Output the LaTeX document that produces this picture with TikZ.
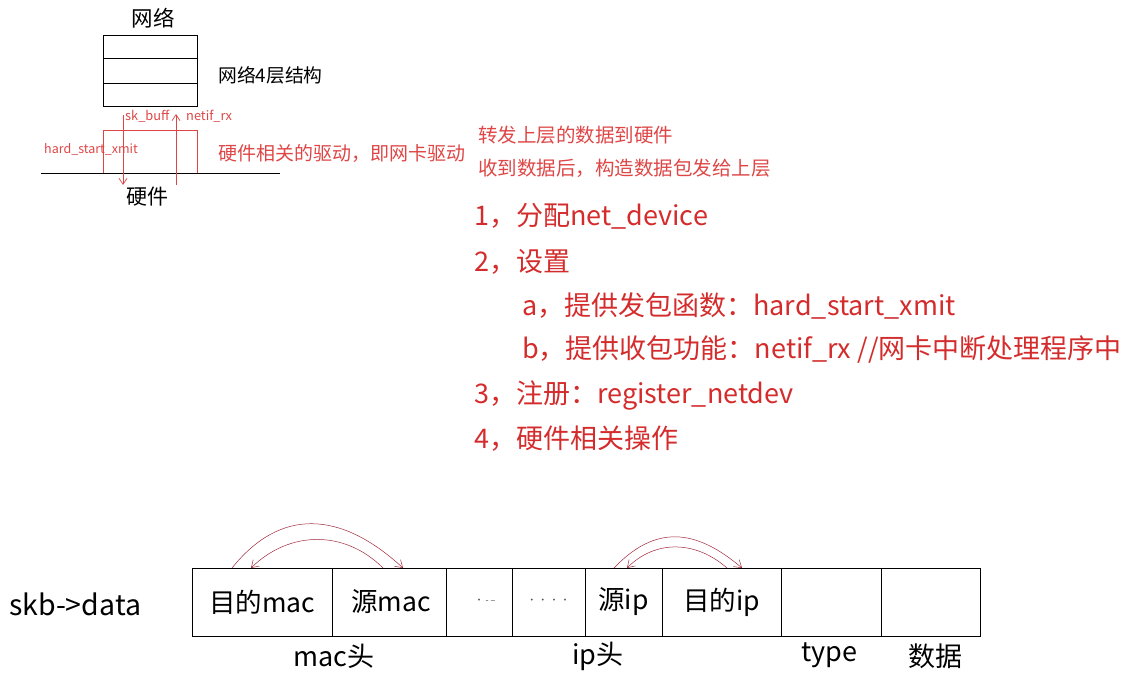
\documentclass[tikz,border=0pt]{standalone}
\usepackage{fontspec}
\setmainfont{Noto Sans CJK SC}
\usetikzlibrary{arrows.meta}
\definecolor{listred}{RGB}{212,44,44}
\definecolor{lightred}{RGB}{222,70,70}
\definecolor{arcred}{RGB}{160,40,60}
\tikzset{
  layer/.style={draw=black, line width=0.8pt, minimum width=94pt, minimum height=24pt, inner sep=0pt},
  cell/.style={draw=black, line width=0.8pt, minimum height=68pt, inner sep=0pt, font=\fontsize{26.5}{30}\selectfont},
  lbl/.style={inner sep=0pt, font=\fontsize{27}{30}\selectfont},
  small/.style={inner sep=0pt, text=lightred, font=\fontsize{12.8}{15}\selectfont},
  mid/.style={inner sep=0pt, text=lightred, font=\fontsize{19.5}{22}\selectfont, anchor=west},
  item/.style={inner sep=0pt, text=listred, font=\fontsize{27}{31}\selectfont, anchor=west},
  arc/.style={draw=arcred, line width=0.5pt, -{Straight Barb[length=7pt,width=9pt]}},
  darrow/.style={draw=lightred, line width=0.7pt, -{Straight Barb[length=6pt,width=8pt]}}
}
\begin{document}
\begin{tikzpicture}[x=1pt,y=-1pt]
\useasboundingbox (0,0) rectangle (1132,685);
% network 4 layers
\node[lbl, font=\fontsize{21.5}{24}\selectfont] (nettitle) at (153,18) {网络};
\node[layer, minimum height=23pt] (l1) at (150,46.5) {};
\node[layer, minimum height=25pt] (l2) at (150,70.5) {};
\node[layer, minimum height=23pt] (l3) at (150,94.5) {};
\node[lbl, font=\fontsize{18.8}{22}\selectfont, anchor=west] (netlabel) at (218,75) {网络4层结构};
% driver
\node[draw=lightred, line width=0.8pt, minimum width=94pt, minimum height=43pt, inner sep=0pt] (drv) at (150,151.5) {};
\coordinate (lineL) at (41,173);
\coordinate (lineR) at (280,173);
\draw[line width=0.8pt] (lineL) -- (lineR);
\coordinate (dTop) at (123,115);
\coordinate (dBot) at (123,185);
\coordinate (uBot) at (176,185);
\coordinate (uTop) at (176,114);
\draw[darrow] (dTop) -- (dBot);
\draw[darrow] (uBot) -- (uTop);
\node[small, anchor=west] (skb) at (125,116) {sk\_buff};
\node[small, anchor=west] (netifrx) at (186,116) {netif\_rx};
\node[small, anchor=west, font=\fontsize{12.5}{15}\selectfont] (hsx) at (44,149) {hard\_start\_xmit};
\node[mid, font=\fontsize{19}{22}\selectfont] (drvlabel) at (218,153) {硬件相关的驱动，即网卡驱动};
\node[lbl, font=\fontsize{21}{24}\selectfont] (hw) at (147,197) {硬件};
% right notes
\node[mid] (n1) at (478,135) {转发上层的数据到硬件};
\node[mid] (n2) at (478,168) {收到数据后，构造数据包发给上层};
% list
\node[item] (i1) at (474,216) {1，分配net\_device};
\node[item] (i2) at (474,262) {2，设置};
\node[item] (i3) at (522,306) {a，提供发包函数：hard\_start\_xmit};
\node[item] (i4) at (522,350) {b，提供收包功能：netif\_rx //网卡中断处理程序中};
\node[item] (i5) at (474,395) {3，注册：register\_netdev};
\node[item] (i6) at (474,439) {4，硬件相关操作};
% skb data
\node[lbl, anchor=west, font=\fontsize{28.5}{32}\selectfont] (skbdata) at (9,604) {skb->data};
\node[cell, minimum width=140pt] (c1) at (262,602) {目的mac};
\node[cell, minimum width=114pt] (c2) at (389,602) {\hspace*{4pt}源mac};
\node[cell, minimum width=66pt, font=\fontsize{9}{10}\selectfont, text=black!70] (c3) at (479,602) {\raisebox{2pt}{\hspace*{12pt}· - –}};
\node[cell, minimum width=73pt, font=\fontsize{9}{10}\selectfont, text=black!70] (c4) at (548.5,602) {\raisebox{2pt}{· · · ·}};
\node[cell, minimum width=77pt] (c5) at (623.5,602) {源ip};
\node[cell, minimum width=119pt] (c6) at (721.5,602) {目的ip};
\node[cell, minimum width=100pt] (c7) at (831,602) {};
\node[cell, minimum width=99pt] (c8) at (930.5,602) {};
\node[lbl] (machead) at (334,656) {mac头};
\node[lbl] (iphead) at (598,656) {ip头};
\node[lbl] (typel) at (829,655) {type};
\node[lbl] (datal) at (935,656) {数据};
% arcs
\coordinate (a1s) at (232,568);
\coordinate (a1e) at (403,568);
\coordinate (a2s) at (383,568);
\coordinate (a2e) at (251,568);
\draw[arc] (a1s) .. controls (280,508) and (340,510) .. (a1e);
\draw[arc] (a2s) .. controls (345,530) and (290,530) .. (a2e);
\coordinate (b1s) at (614,568);
\coordinate (b1e) at (742,568);
\coordinate (b2s) at (727,568);
\coordinate (b2e) at (627,568);
\draw[arc] (b1s) .. controls (655,525) and (695,528) .. (b1e);
\draw[arc] (b2s) .. controls (695,540) and (655,540) .. (b2e);
\end{tikzpicture}
\end{document}
